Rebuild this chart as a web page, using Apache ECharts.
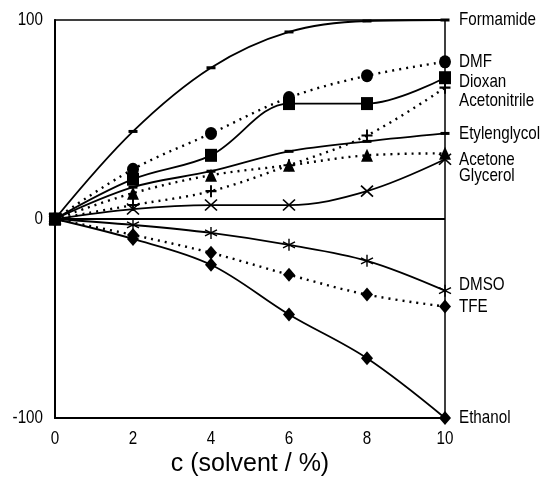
<!DOCTYPE html>
<html><head><meta charset="utf-8">
<script src="https://cdn.jsdelivr.net/npm/echarts@6/dist/echarts.min.js"></script>
<style>html,body{margin:0;padding:0;background:#fff}#c{width:546px;height:479px}</style>
</head><body><div id="c"></div>
<script>
const concentrations = [0, 2, 4, 6, 8, 10];
const formamide    = [0, 44, 76, 94, 99.5, 100];
const dmf          = [0, 25, 43, 61, 72, 79];
const dioxan       = [0, 20, 32, 58, 58, 71];
const acetonitrile = [0, 7, 14, 27, 42, 66];
const etylenglycol = [0, 16, 24, 34, 39, 43];
const acetone      = [0, 13, 22, 27, 32, 33];
const glycerol     = [0, 5, 7, 7, 14, 30];
const dmso         = [0, -3, -7, -13, -21, -36];
const tfe          = [0, -8, -17, -28, -38, -44];
const ethanol      = [0, -10, -23, -48, -70, -100];
const xTicks = [0, 2, 4, 6, 8, 10];
const yTicks = [-100, 0, 100];
const xTitle = 'c (solvent / %)';

const FONT = '"Liberation Sans", Arial, sans-serif';
const NARROW = 0.8;
const SYM = {
  dash: 'rect',
  plus: 'path://M5,0L5,10M0,5L10,5',
  cross: 'path://M0,0L10,10M10,0L0,10',
  star: 'path://M5,0L5,10M0,2.5L10,7.5M10,2.5L0,7.5'
};
const labelShift = {};
function mk(name, vals, opts) {
  labelShift[name] = opts.dy || 0;
  return {
    name: name,
    type: 'line',
    data: concentrations.map((x, i) => [x, vals[i]]),
    smooth: 0.35,
    symbol: opts.symbol,
    symbolSize: opts.size,
    showAllSymbol: true,
    itemStyle: { color: '#000', borderColor: '#000', borderWidth: opts.bw || 0 },
    lineStyle: { color: '#000', width: opts.dotted ? 2.4 : 1.8, type: opts.dotted ? [2, 5] : 'solid' },
    z: 3
  };
}
const series = [
  mk('Formamide', formamide, { symbol: SYM.dash, size: [9, 3] }),
  mk('DMF', dmf, { symbol: 'circle', size: [12, 13], dotted: true }),
  mk('Dioxan', dioxan, { symbol: 'rect', size: [12, 13], dy: 4 }),
  mk('Acetonitrile', acetonitrile, { symbol: SYM.plus, size: [11, 12], dotted: true, bw: 2, dy: 13 }),
  mk('Etylenglycol', etylenglycol, { symbol: SYM.dash, size: [9, 3] }),
  mk('Acetone', acetone, { symbol: 'triangle', size: [12, 13], dotted: true, dy: 6 }),
  mk('Glycerol', glycerol, { symbol: SYM.cross, size: [12, 11], bw: 1.6, dy: 16 }),
  mk('DMSO', dmso, { symbol: SYM.star, size: [12, 12], bw: 1.4, dy: -6 }),
  mk('TFE', tfe, { symbol: 'diamond', size: [12, 14], dotted: true }),
  mk('Ethanol', ethanol, { symbol: 'diamond', size: [12, 14] })
];
series[0].markLine = {
  silent: true, symbol: 'none', label: { show: false },
  lineStyle: { color: '#000', width: 2, type: 'solid' },
  data: [{ yAxis: 0 }]
};

const chart = echarts.init(document.getElementById('c'), null, { renderer: 'canvas' });
chart.setOption({
  animation: false,
  backgroundColor: '#fff',
  grid: {
    left: 55, right: 101, top: 20, bottom: 61, containLabel: false, outerBoundsMode: 'none',
    show: true, borderColor: '#000', borderWidth: 1.5, backgroundColor: 'transparent'
  },
  xAxis: {
    type: 'value', min: xTicks[0], max: xTicks[xTicks.length - 1], interval: 2,
    name: xTitle, nameLocation: 'middle', nameGap: 34,
    nameTextStyle: { color: '#000', fontFamily: FONT, fontSize: 25 },
    axisLine: { show: true, onZero: false, lineStyle: { color: '#000', width: 2 } },
    axisTick: { show: false }, splitLine: { show: false },
    axisLabel: { show: false }
  },
  yAxis: {
    type: 'value', min: yTicks[0], max: yTicks[yTicks.length - 1], interval: 100,
    axisLine: { show: true, onZero: false, lineStyle: { color: '#000', width: 2 } },
    axisTick: { show: false }, splitLine: { show: false },
    axisLabel: { show: false }
  },
  series: series
});

// condensed text labels positioned through the chart's own scales
const graphics = [];
function txt(x, y, s, align) {
  graphics.push({
    type: 'text', x: x, y: y, scaleX: NARROW, silent: true, z: 10,
    style: { text: s, fill: '#000', font: '19px ' + FONT, textAlign: align, textVerticalAlign: 'middle' }
  });
}
xTicks.forEach(v => {
  const p = chart.convertToPixel({ gridIndex: 0 }, [v, yTicks[0]]);
  txt(p[0], p[1] + 21, String(v), 'center');
});
yTicks.forEach(v => {
  const p = chart.convertToPixel({ gridIndex: 0 }, [xTicks[0], v]);
  txt(p[0] - 12, p[1], String(v), 'right');
});
series.forEach(s => {
  const last = s.data[s.data.length - 1];
  const p = chart.convertToPixel({ gridIndex: 0 }, last);
  txt(p[0] + 14, p[1] + labelShift[s.name], s.name, 'left');
});
chart.setOption({ graphic: graphics });
</script></body></html>
